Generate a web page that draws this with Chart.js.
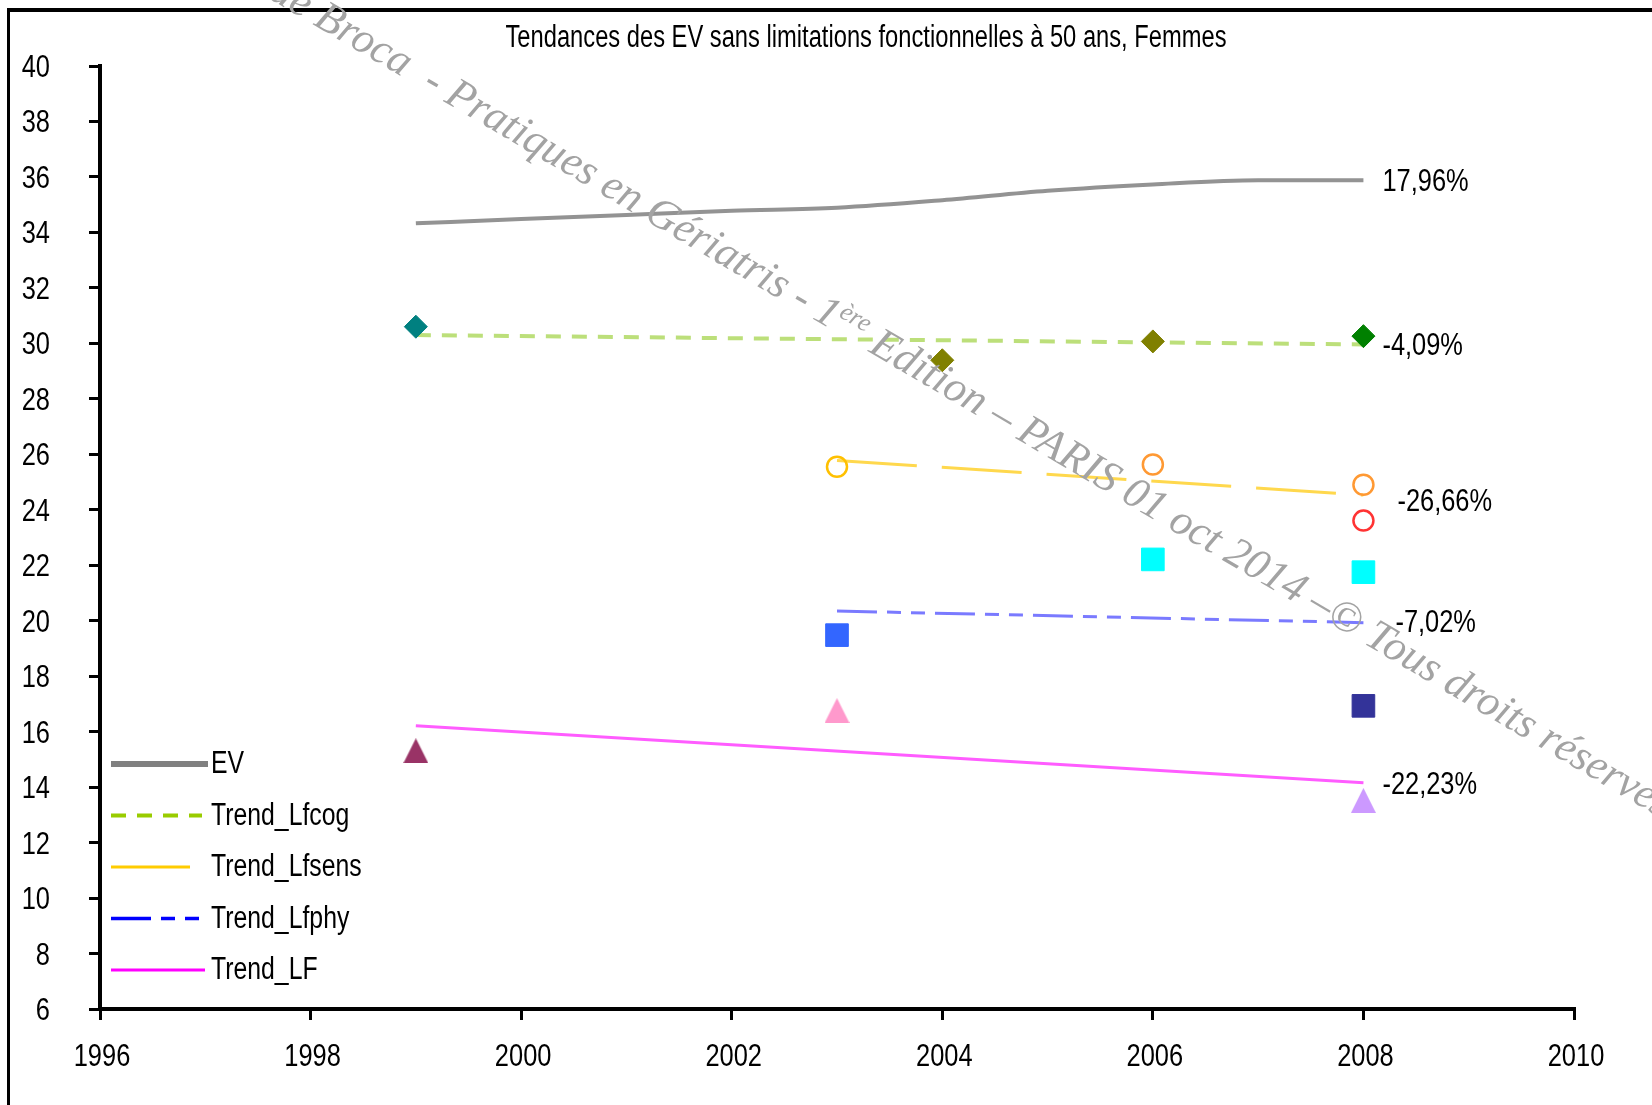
<!DOCTYPE html>
<html lang="fr">
<head>
<meta charset="utf-8">
<title>Tendances des EV sans limitations fonctionnelles à 50 ans, Femmes</title>
<script src="https://cdn.jsdelivr.net/npm/chart.js@4/dist/chart.umd.min.js"></script>
<style>
  html, body { margin: 0; padding: 0; background: #fff; }
  #wrap { width: 1652px; height: 1105px; }
</style>
</head>
<body>
<div id="wrap"><canvas id="myChart" width="1652" height="1105"></canvas></div>
<script>
// axis ranges
const xMin = 1996, xMax = 2010, xStep = 2;
const yMin = 6, yMax = 40, yStep = 2;

// EV (espérance de vie), yearly
const evYears = [1999, 2000, 2001, 2002, 2003, 2004, 2005, 2006, 2007, 2008];
const evValues = [34.33, 34.48, 34.63, 34.78, 34.89, 35.16, 35.50, 35.73, 35.88, 35.88];

// trend lines (start / end)
const trendCogYears = [1999, 2008];
const trendCog = [30.30, 29.96];
const trendSensYears = [2003, 2008];
const trendSens = [25.78, 24.53];
const trendPhyYears = [2003, 2008];
const trendPhy = [20.35, 19.93];
const trendLfYears = [1999, 2008];
const trendLf = [16.21, 14.16];

// observed points
const cogYears = [1999, 2004, 2006, 2008];
const cogValues = [30.60, 29.39, 30.07, 30.26];
const cogColors = ['#008080', '#808000', '#808000', '#008000'];

const sensYears = [2003, 2006, 2008, 2008];
const sensValues = [25.55, 25.63, 24.90, 23.61];
const sensColors = ['#ffc000', '#ff9933', '#ff9933', '#ff3333'];

const phyYears = [2003, 2006, 2008, 2008];
const phyValues = [19.48, 22.21, 21.75, 16.93];
const phyColors = ['#3366ff', '#00ffff', '#00ffff', '#333399'];

const lfYears = [1999, 2003, 2008];
const lfValues = [15.31, 16.76, 13.52];
const lfColors = ['#993366', '#ff99cc', '#cc99ff'];

// evolution labels at the end of each line
const endLabels = ['17,96%', '-4,09%', '-26,66%', '-7,02%', '-22,23%'];

const chartTitle = 'Tendances des EV sans limitations fonctionnelles à 50 ans, Femmes';
const watermark = [
  { text: 'de Broca  - ', sup: false },
  { text: 'Pratiques en Gériatris - 1', sup: false },
  { text: 'ère', sup: true },
  { text: ' Edition – PARIS 01 oct 2014 –© Tous droits réservés', sup: false }
];

const pts = (xs, ys) => xs.map((x, i) => ({ x, y: ys[i] }));

// Arial-Narrow-like text: Liberation Sans squeezed horizontally
const narrowText = (ctx, text, x, y, align, squeeze = 0.82) => {
  ctx.save();
  ctx.font = '31px "Liberation Sans", Arial, sans-serif';
  ctx.textAlign = 'left';
  ctx.textBaseline = 'alphabetic';
  const w = ctx.measureText(text).width * squeeze;
  const x0 = align === 'center' ? x - w / 2 : align === 'right' ? x - w : x;
  ctx.translate(x0, y);
  ctx.scale(squeeze, 1);
  ctx.fillText(text, 0, 0);
  ctx.restore();
};

const triangle = (color) => {
  const c = document.createElement('canvas');
  c.width = 25; c.height = 25;
  const g = c.getContext('2d');
  g.fillStyle = color;
  g.beginPath();
  g.moveTo(12.5, 0); g.lineTo(25, 25); g.lineTo(0, 25);
  g.closePath();
  g.fill();
  return c;
};

const lineSet = (label, xs, ys, color, legendColor, width, dash, legendWidth, legendLen, extra) => Object.assign({
  label,
  data: pts(xs, ys),
  showLine: true,
  borderColor: color,
  borderWidth: width,
  borderDash: dash,
  pointRadius: 0,
  fill: false,
  order: 2,
  legendColor, legendWidth, legendLen
}, extra || {});

const markerSet = (label, xs, ys, colors, style, radius, hollow) => ({
  label,
  data: pts(xs, ys),
  showLine: false,
  pointStyle: style,
  pointRadius: radius,
  pointBackgroundColor: hollow ? 'rgba(0,0,0,0)' : colors,
  pointBorderColor: colors,
  pointBorderWidth: hollow ? 2.5 : 1,
  order: 0
});

const trends = [
  lineSet('EV', evYears, evValues, '#939393', '#808080', 4, [], 6, 97, { tension: 0.4, cubicInterpolationMode: 'monotone' }),
  lineSet('Trend_Lfcog', trendCogYears, trendCog, '#bcdf7a', '#99cc00', 4, [15, 11], 4, 91),
  lineSet('Trend_Lfsens', trendSensYears, trendSens, '#ffd84d', '#ffcc00', 3, [80, 25], 3, 79),
  lineSet('Trend_Lfphy', trendPhyYears, trendPhy, '#7a7aff', '#0000ff', 3, [40, 10, 14, 10, 14, 10], 3.5, 91),
  lineSet('Trend_LF', trendLfYears, trendLf, '#ff5cff', '#ff00ff', 3, [], 3, 94)
];

const markers = [
  markerSet('Lfcog', cogYears, cogValues, cogColors, 'rectRot', 11.5),
  markerSet('Lfsens', sensYears, sensValues, sensColors, 'circle', 10, true),
  markerSet('Lfphy', phyYears, phyValues, phyColors, 'rect', 16),
  markerSet('LF', lfYears, lfValues, lfColors, lfColors.map(triangle), 12)
];

// offsets of the evolution labels from the 2008 end of each line
const labelShift = [[19, 11], [19, 11], [34, 16], [32, 9], [19, 11]];

const decor = {
  id: 'decor',
  beforeDraw(chart) {
    const { ctx, width, height } = chart;
    ctx.save();
    ctx.fillStyle = '#fff';
    ctx.fillRect(0, 0, width, height);
    ctx.fillStyle = '#000';
    ctx.fillRect(7, 8, width - 7, 4);
    ctx.fillRect(7, 8, 3, height - 8);
    ctx.restore();
  },
  afterDraw(chart) {
    const { ctx } = chart;
    const xs = chart.scales.x, ys = chart.scales.y;
    ctx.save();
    ctx.fillStyle = '#000';

    // tick labels of both axes
    xs.ticks.forEach(t => narrowText(ctx, String(t.value), xs.getPixelForValue(t.value) + 2, 1066, 'center'));
    ys.ticks.forEach(t => narrowText(ctx, String(t.value), 50, ys.getPixelForValue(t.value) + 11, 'right'));

    // title
    narrowText(ctx, chartTitle, 866, 47, 'center', 0.765);

    // legend inside the plot, bottom left
    trends.forEach((ds, i) => {
      const y = 764 + i * 51.5;
      ctx.save();
      ctx.strokeStyle = ds.legendColor;
      ctx.lineWidth = ds.legendWidth;
      ctx.setLineDash(ds.borderDash);
      ctx.beginPath();
      ctx.moveTo(111, y);
      ctx.lineTo(111 + ds.legendLen, y);
      ctx.stroke();
      ctx.restore();
      narrowText(ctx, ds.label, 211, y + 9, 'left', 0.8);
    });

    // evolution labels
    trends.forEach((ds, i) => {
      const last = ds.data[ds.data.length - 1];
      const px = xs.getPixelForValue(last.x) + labelShift[i][0];
      const py = ys.getPixelForValue(last.y) + labelShift[i][1];
      narrowText(ctx, endLabels[i], px, py, 'left');
    });

    // copyright watermark
    ctx.translate(443, 101);
    ctx.rotate(30.5 * Math.PI / 180);
    ctx.fillStyle = '#a3a3a3';
    ctx.textBaseline = 'alphabetic';
    ctx.textAlign = 'left';
    ctx.font = 'italic 43.5px "Liberation Serif", serif';
    let x = -ctx.measureText(watermark[0].text).width;
    watermark.forEach(part => {
      ctx.font = part.sup ? 'italic 26px "Liberation Serif", serif' : 'italic 43.5px "Liberation Serif", serif';
      ctx.fillText(part.text, x, part.sup ? -15 : 0);
      x += ctx.measureText(part.text).width;
    });
    ctx.restore();
  }
};

new Chart(document.getElementById('myChart'), {
  type: 'scatter',
  data: { datasets: [...markers, ...trends] },
  options: {
    responsive: false,
    devicePixelRatio: 1,
    animation: false,
    events: [],
    layout: { padding: { top: 66, right: 78, left: 0, bottom: 0 } },
    plugins: {
      legend: { display: false },
      title: { display: false },
      tooltip: { enabled: false }
    },
    scales: {
      x: {
        type: 'linear',
        min: xMin,
        max: xMax,
        afterFit: s => { s.height = 96; },
        border: { display: true, color: '#000', width: 4 },
        grid: { drawOnChartArea: false, drawTicks: true, tickLength: 11, color: '#000', lineWidth: 3 },
        ticks: { stepSize: xStep, display: false, autoSkip: false }
      },
      y: {
        type: 'linear',
        min: yMin,
        max: yMax,
        afterFit: s => { s.width = 100; },
        border: { display: true, color: '#000', width: 4 },
        grid: { drawOnChartArea: false, drawTicks: true, tickLength: 11, color: '#000', lineWidth: 3 },
        ticks: { stepSize: yStep, display: false, autoSkip: false }
      }
    }
  },
  plugins: [decor]
});
</script>
</body>
</html>
